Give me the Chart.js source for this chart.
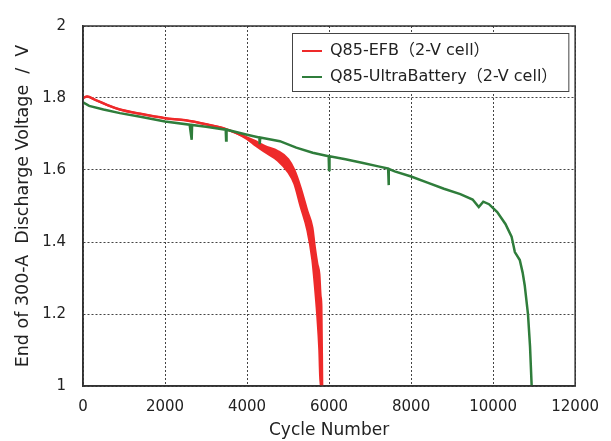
<!DOCTYPE html>
<html>
<head>
<meta charset="utf-8">
<script src="https://cdn.jsdelivr.net/npm/chart.js@4.4.1/dist/chart.umd.min.js"></script>
<style>
  html, body { margin: 0; padding: 0; background: #fff; }
  #chart { display: block; }
</style>
</head>
<body>
<canvas id="chart" width="611" height="441"></canvas>
<script>
const cycleTicks = [0, 2000, 4000, 6000, 8000, 10000, 12000];
const voltTicks = [1, 1.2, 1.4, 1.6, 1.8, 2];

// Q85-UltraBattery (green)
const ultraCycles = [0, 150, 500, 900, 1400, 2000, 2600, 2650, 2660, 3000, 3480, 3490, 3500, 4000, 4300, 4310, 4320, 4800, 5200, 5600, 5990, 6000, 6010, 6400, 6800, 7200, 7440, 7450, 7460, 7600, 8000, 8400, 8800, 9200, 9500, 9650, 9760, 9900, 10100, 10300, 10450, 10530, 10650, 10720, 10770, 10850, 10900, 10940];
const ultraVolts = [1.788, 1.778, 1.768, 1.758, 1.748, 1.735, 1.726, 1.684, 1.725, 1.720, 1.712, 1.682, 1.712, 1.698, 1.690, 1.672, 1.690, 1.680, 1.662, 1.648, 1.638, 1.600, 1.638, 1.630, 1.620, 1.610, 1.604, 1.558, 1.603, 1.596, 1.582, 1.565, 1.548, 1.533, 1.518, 1.497, 1.512, 1.505, 1.483, 1.450, 1.415, 1.372, 1.350, 1.315, 1.280, 1.200, 1.110, 1.000];

// Q85-EFB (red): the trace turns into a wide noisy band after ~4000 cycles,
// so keep its upper and lower edges
const efbCycles = [0, 100, 300, 600, 900, 1400, 2000, 2500, 3000, 3500, 4000, 4200, 4430, 4750, 5000, 5150, 5300, 5470, 5590, 5650, 5710, 5760, 5790, 5810, 5830];
const efbHigh = [1.800, 1.804, 1.795, 1.780, 1.768, 1.756, 1.744, 1.738, 1.727, 1.713, 1.690, 1.680, 1.666, 1.652, 1.630, 1.600, 1.552, 1.485, 1.440, 1.385, 1.340, 1.310, 1.250, 1.220, 1.000];
const efbLow = [1.800, 1.804, 1.795, 1.780, 1.768, 1.756, 1.744, 1.738, 1.727, 1.713, 1.686, 1.668, 1.650, 1.626, 1.594, 1.562, 1.500, 1.432, 1.350, 1.280, 1.195, 1.100, 1.000, 1.000, 1.000];

const RED = "#ee2a2a";
const GREEN = "#2f7d3b";
const FONT = "'DejaVu Sans', 'Noto Sans CJK JP', sans-serif";

const toPoints = (xs, ys) => xs.map((x, i) => ({ x: x, y: ys[i] }));

// frame round the plot + white legend box with border
const frameAndLegendBox = {
    id: "frameAndLegendBox",
    afterLayout(chart) {
        chart.legend.left = chart.chartArea.left + 209;
        chart.legend.top = chart.chartArea.top + 7;
    },
    afterDraw(chart) {
        const { ctx, chartArea: a, legend } = chart;
        ctx.save();
        ctx.strokeStyle = "#333";
        ctx.lineWidth = 1.5;
        ctx.strokeRect(a.left, a.top, a.right - a.left, a.bottom - a.top);

        const boxes = legend.legendHitBoxes;
        const x0 = legend.left;
        const y0 = legend.top;
        const x1 = Math.max(...boxes.map((b) => b.left + b.width)) + 11;
        const y1 = Math.max(...boxes.map((b) => b.top + b.height)) + 6;
        ctx.fillStyle = "#fff";
        ctx.fillRect(x0, y0, x1 - x0, y1 - y0);
        ctx.strokeStyle = "#444";
        ctx.lineWidth = 1;
        ctx.strokeRect(x0 + 0.5, y0 + 0.5, x1 - x0, y1 - y0);
        ctx.restore();
        legend.draw();
    },
};

Chart.defaults.font.family = FONT;
Chart.defaults.color = "#222";

new Chart(document.getElementById("chart").getContext("2d"), {
    type: "line",
    data: {
        datasets: [
            {
                label: "Q85-UltraBattery（2-V cell）",
                data: toPoints(ultraCycles, ultraVolts),
                borderColor: GREEN,
                backgroundColor: GREEN,
                borderWidth: 2.5,
                pointRadius: 0,
                fill: false,
            },
            {
                label: "Q85-EFB（2-V cell）",
                data: toPoints(efbCycles, efbHigh),
                borderColor: RED,
                backgroundColor: RED,
                borderWidth: 2.5,
                pointRadius: 0,
                cubicInterpolationMode: "monotone",
                fill: false,
            },
            {
                data: toPoints(efbCycles, efbLow),
                borderColor: RED,
                backgroundColor: RED,
                borderWidth: 2,
                pointRadius: 0,
                cubicInterpolationMode: "monotone",
                fill: "-1",
            },
        ],
    },
    options: {
        responsive: false,
        animation: false,
        layout: { padding: { top: 16, right: 30, left: 0, bottom: 0 } },
        plugins: {
            tooltip: { enabled: false },
            legend: {
                position: "chartArea",
                align: "start",
                labels: {
                    font: { size: 16, family: FONT },
                    color: "#222",
                    boxWidth: 20,
                    boxHeight: 2,
                    padding: 10,
                    filter: (item) => !!item.text,
                    sort: (a, b) => b.datasetIndex - a.datasetIndex,
                    generateLabels(chart) {
                        const items = Chart.defaults.plugins.legend.labels.generateLabels(chart);
                        items.forEach((it) => { it.lineWidth = 0; });
                        return items;
                    },
                },
            },
        },
        scales: {
            x: {
                type: "linear",
                min: 0,
                max: 12000,
                afterBuildTicks: (scale) => { scale.ticks = cycleTicks.map((v) => ({ value: v })); },
                afterFit: (scale) => { scale.height = 55; },
                ticks: {
                    callback: (v) => String(v),
                    font: { size: 15 },
                    color: "#222",
                    padding: 12,
                    maxRotation: 0,
                },
                grid: { color: "#444", lineWidth: 1, drawTicks: false },
                border: { dash: [2, 2], color: "#333", width: 1.5 },
                title: {
                    display: true,
                    text: "Cycle Number",
                    font: { size: 17 },
                    color: "#222",
                    padding: { top: 0, bottom: 0 },
                },
            },
            y: {
                type: "linear",
                min: 1,
                max: 2,
                afterBuildTicks: (scale) => { scale.ticks = voltTicks.map((v) => ({ value: v })); },
                afterFit: (scale) => { scale.width = 83; },
                ticks: {
                    callback: (v) => String(v),
                    font: { size: 15 },
                    color: "#222",
                    padding: 17,
                },
                grid: { color: "#444", lineWidth: 1, drawTicks: false },
                border: { dash: [2, 2], color: "#333", width: 1.5 },
                title: {
                    display: true,
                    text: "End of 300-A  Discharge Voltage  /  V",
                    font: { size: 17.5 },
                    color: "#222",
                    padding: { top: 13, bottom: 0 },
                },
            },
        },
    },
    plugins: [frameAndLegendBox],
});
</script>
</body>
</html>
